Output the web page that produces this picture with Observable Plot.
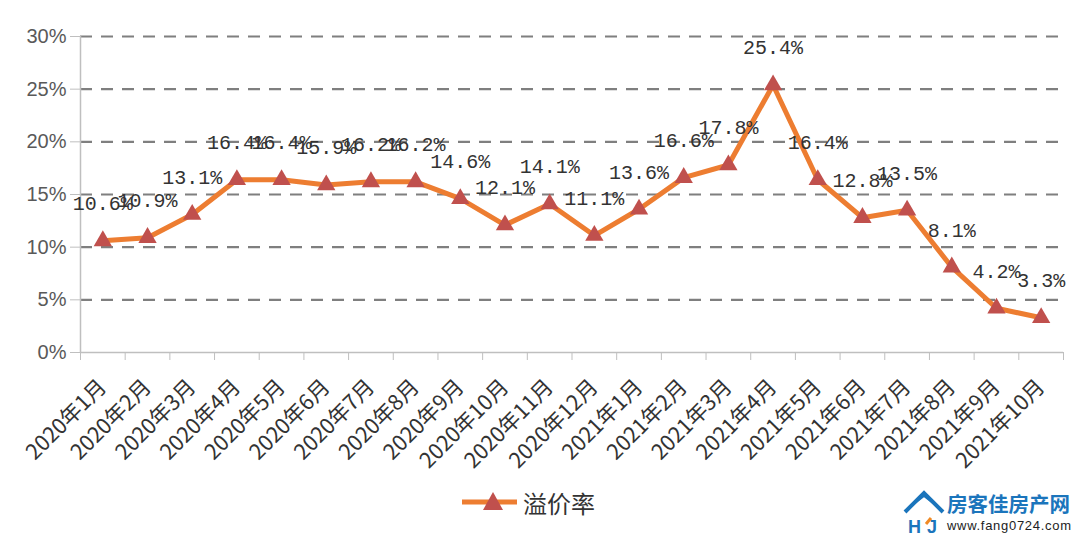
<!DOCTYPE html>
<html><head><meta charset="utf-8">
<script src="https://cdn.jsdelivr.net/npm/d3@7"></script>
<script src="https://cdn.jsdelivr.net/npm/@observablehq/plot@0.6"></script>
<style>
body{margin:0;background:#fff;width:1080px;height:540px;overflow:hidden;position:relative;font-family:"Noto Sans CJK SC","Liberation Sans",sans-serif;}
#legend{position:absolute;left:462px;top:484px;height:36px;display:flex;align-items:center;}
#legend span{font-size:24px;color:#333;margin-left:6px;}
#logo{position:absolute;left:900px;top:488px;width:180px;height:50px;}
</style></head>
<body>
<div id="chart"></div>
<div id="legend"><svg width="55" height="24"><line x1="0" y1="12" x2="55" y2="12" stroke="#ED7D31" stroke-width="5"/><path d="M31,2 L41,20 L21,20 Z" fill="#C0504D"/></svg><span>溢价率</span></div>
<div id="logo">
<svg width="180" height="50">
<path d="M5,24 L24,5 L43,24" fill="none" stroke="#1b75bc" stroke-width="4" stroke-linejoin="miter"/>
<path d="M11,18 L24,8 L37,18" fill="none" stroke="#1b75bc" stroke-width="2"/>
<text x="8" y="45" font-size="18" font-weight="bold" fill="#1b75bc" font-family="Liberation Sans">H</text>
<text x="27" y="45" font-size="18" font-weight="bold" fill="#1b75bc" font-family="Liberation Sans">J</text>
<path d="M26,36 L31,30" stroke="#f08a24" stroke-width="3"/>
<text x="47" y="24" font-size="20.5" font-weight="bold" fill="#1b75bc" font-family="Noto Sans CJK SC">房客佳房产网</text>
<text x="47" y="42" font-size="13" fill="#222" font-family="Liberation Sans" textLength="124">www.fang0724.com</text>
</svg></div>
<script>
const months = ["2020年1月","2020年2月","2020年3月","2020年4月","2020年5月","2020年6月","2020年7月","2020年8月","2020年9月","2020年10月","2020年11月","2020年12月","2021年1月","2021年2月","2021年3月","2021年4月","2021年5月","2021年6月","2021年7月","2021年8月","2021年9月","2021年10月"];
const premium = [10.6,10.9,13.1,16.4,16.4,15.9,16.2,16.2,14.6,12.1,14.1,11.1,13.6,16.6,17.8,25.4,16.4,12.8,13.5,8.1,4.2,3.3];
const yTicks = [0,5,10,15,20,25,30];

const data = months.map((m,i)=>({i:i+0.5, month:m, v:premium[i]}));
const bounds = d3.range(0, months.length+1);

const chart = Plot.plot({
  width:1080, height:480,
  marginLeft:80, marginRight:17, marginTop:36, marginBottom:128,
  style:{background:"#fff", fontFamily:"Noto Sans CJK SC, Liberation Sans, sans-serif"},
  x:{domain:[0, months.length], axis:null},
  y:{domain:[0,30], axis:null},
  marks:[
    Plot.ruleY(yTicks.filter(d=>d>0), {stroke:"#7f7f7f", strokeWidth:2.2, strokeDasharray:"12,9"}),
    Plot.ruleY([0], {stroke:"#bfbfbf", strokeWidth:1.5}),
    Plot.ruleX([0], {stroke:"#bfbfbf", strokeWidth:1.5}),
    Plot.axisY({ticks:yTicks, tickFormat:d=>d+"%", label:null, tickSize:10, tickPadding:4, stroke:"#bfbfbf", fill:"#595959", fontSize:20, fontFamily:"Liberation Sans Narrow, Liberation Sans", strokeOpacity:1}),
    Plot.axisX({ticks:bounds, tickFormat:()=>"", label:null, tickSize:8, stroke:"#bfbfbf", strokeOpacity:1}),
    Plot.axisX({ticks:data.map(d=>d.i), tickFormat:d=>months[Math.floor(d)], label:null, tickSize:0, tickPadding:31, tickRotate:-45, fontSize:21.5, fill:"#333", fontFamily:"Noto Sans CJK SC"}),
    Plot.line(data, {x:"i", y:"v", stroke:"#ED7D31", strokeWidth:5}),
    Plot.dot(data, {x:"i", y:"v", symbol:"triangle", r:6.8, fill:"#C0504D", stroke:"none"}),
    Plot.text(data, {x:"i", y:"v", text:d=>d.v.toFixed(1)+"%", dy:-37, fontSize:20, fill:"#333", fontFamily:"Liberation Mono"})
  ]
});
document.getElementById("chart").appendChild(chart);
</script>
</body></html>
